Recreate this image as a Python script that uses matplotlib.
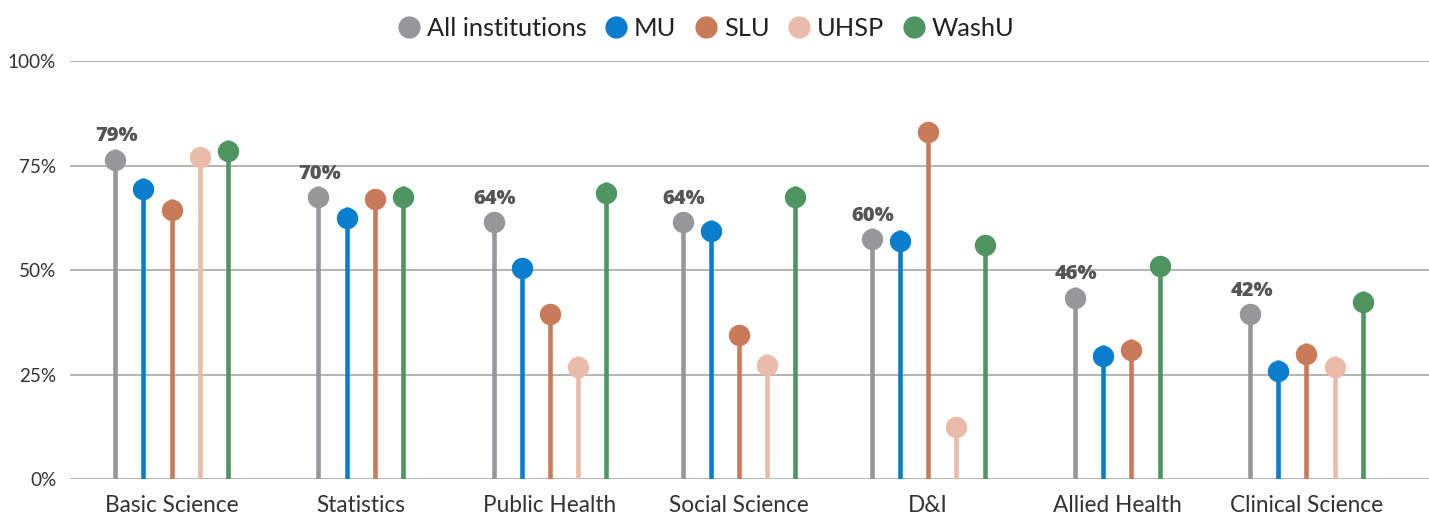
import numpy as np
import matplotlib
matplotlib.use("Agg")
import matplotlib.pyplot as plt
from matplotlib.lines import Line2D
from matplotlib import transforms

plt.rcParams["font.family"] = ["Lato", "DejaVu Sans"]

categories = ["Basic Science", "Statistics", "Public Health", "Social Science",
              "D&I", "Allied Health", "Clinical Science"]
institutions = ["All institutions", "MU", "SLU", "UHSP", "WashU"]

all_inst = [79, 70, 64, 64, 60, 46, 42]
mu = [72, 65, 53, 62, 59.5, 32, 28.5]
slu = [67, 69.5, 42, 37, 85.5, 33.5, 32.5]
uhsp = [79.5, np.nan, 29.5, 30, 15, np.nan, 29.5]
washu = [81, 70, 71, 70, 58.5, 53.5, 45]

yticks = [0, 25, 50, 75, 100]

series = [all_inst, mu, slu, uhsp, washu]
colors = ["#97979b", "#0a7dcd", "#c97b59", "#eabba8", "#4e9562"]

fig = plt.figure(figsize=(14.29, 5.15), dpi=100)
ax = fig.add_axes([0.049, 0.0693, 0.951, 0.8123])

step = 0.149
radius_px = 10.7
# marker centre sits one radius below the value so the circle top marks the value
marker_tf = transforms.offset_copy(ax.transData, fig=fig, x=0, y=-radius_px, units="dots")

for i, cat in enumerate(categories):
    present = [k for k in range(len(series)) if not np.isnan(series[k][i])]
    n = len(present)
    for j, k in enumerate(present):
        x = i + (j - (n - 1) / 2) * step
        v = series[k][i]
        ax.vlines(x, 0, v, color=colors[k], lw=3.3, zorder=3)
        ax.plot([x], [v], "o", ms=15.4, color=colors[k], mec="none",
                transform=marker_tf, zorder=4)
        if k == 0:
            ax.annotate(f"{v:.0f}%", (x, v), xytext=(1, 5.5), textcoords="offset points",
                        ha="center", va="baseline", fontsize=14.5, fontweight="black",
                        family=["Open Sans", "DejaVu Sans"],
                        color="#555555", zorder=5)

ax.set_xlim(-0.537, 6.648)
ax.set_ylim(0, 100)
ax.set_yticks(yticks)
ax.set_yticklabels([f"{t}%" for t in yticks], fontsize=13.6, color="#333333")
ax.set_xticks(range(len(categories)))
ax.set_xticklabels(categories, fontsize=16.3, color="#333333")
ax.tick_params(axis="both", length=0)
ax.tick_params(axis="y", pad=10)
ax.tick_params(axis="x", pad=11)
ax.grid(axis="y", color="#a8a8a8", lw=1.2, zorder=0)
ax.set_axisbelow(True)
for s in ax.spines.values():
    s.set_visible(False)

handles = [Line2D([], [], marker="o", ls="none", ms=16, color=c, mec="none") for c in colors]
fig.legend(handles, institutions, loc="upper center", bbox_to_anchor=(0.494, 1.012),
           ncol=5, frameon=False, fontsize=18.3, handlelength=0.9, handletextpad=0.25,
           columnspacing=0.72, labelcolor="#222222")

fig.savefig("out.png", dpi=100)
